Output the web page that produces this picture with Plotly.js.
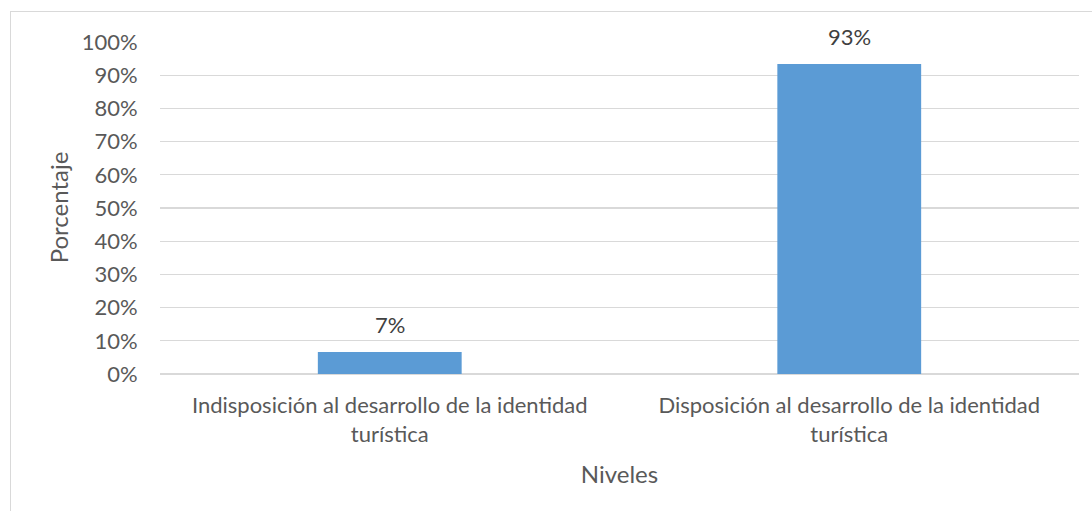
<!DOCTYPE html>
<html>
<head>
<meta charset="utf-8">
<script src="https://cdn.plot.ly/plotly-3.0.1.min.js"></script>
<style>
  html, body { margin: 0; padding: 0; background: #fff; }
  #wrap { position: relative; width: 1092px; height: 511px; overflow: hidden; }
  #chart { position: absolute; left: 0; top: 0; width: 1092px; height: 511px; }
  #frame { position: absolute; left: 10px; top: 11px; width: 1200px; height: 600px;
           border-top: 1.5px solid #d9d9d9; border-left: 1.5px solid #d9d9d9; pointer-events: none; }
</style>
</head>
<body>
<div id="wrap">
  <div id="chart"></div>
  <div id="frame"></div>
</div>
<script>
const categories = [
  "Indisposición al desarrollo de la identidad<br>turística",
  "Disposición al desarrollo de la identidad<br>turística"
];
const values = [0.066, 0.934];
const valueLabels = ["7%", "93%"];
const yTitle = "Porcentaje";
const xTitle = "Niveles";

const FONT = "Lato, 'Open Sans', sans-serif";

const trace = {
  type: "bar",
  x: categories,
  y: values,
  marker: { color: "#5b9bd5", line: { width: 0 } },
  hoverinfo: "none"
};

const annotations = categories.map((c, i) => ({
  x: c, y: values[i], xref: "x", yref: "y",
  text: valueLabels[i], showarrow: false,
  yanchor: "bottom", yshift: 12,
  font: { family: FONT, size: 22, color: "#404040" }
}));

const layout = {
  width: 1092, height: 511,
  margin: { l: 160, r: 13, t: 41, b: 137, pad: 0 },
  paper_bgcolor: "#ffffff",
  plot_bgcolor: "#ffffff",
  showlegend: false,
  bargap: 0.687,
  font: { family: FONT, size: 22, color: "#595959" },
  xaxis: {
    type: "category",
    showgrid: false,
    zeroline: false,
    showline: false,
    ticks: "outside", ticklen: 12, tickcolor: "rgba(0,0,0,0)",
    tickfont: { family: FONT, size: 22, color: "#595959" },
    title: { text: xTitle, font: { family: FONT, size: 24, color: "#595959" }, standoff: 20 }
  },
  yaxis: {
    range: [0, 1.003],
    dtick: 0.1, tick0: 0,
    tickformat: ".0%",
    showgrid: true, gridcolor: "#d9d9d9", gridwidth: 1.3,
    zeroline: true, zerolinecolor: "#d9d9d9", zerolinewidth: 1.3,
    showline: false,
    ticks: "outside", ticklen: 17, tickcolor: "rgba(0,0,0,0)",
    tickfont: { family: FONT, size: 22, color: "#595959" },
    title: { text: yTitle, font: { family: FONT, size: 24, color: "#595959" }, standoff: 6 }
  },
  annotations: annotations
};

Plotly.newPlot("chart", [trace], layout, { displayModeBar: false, staticPlot: true });
</script>
</body>
</html>
